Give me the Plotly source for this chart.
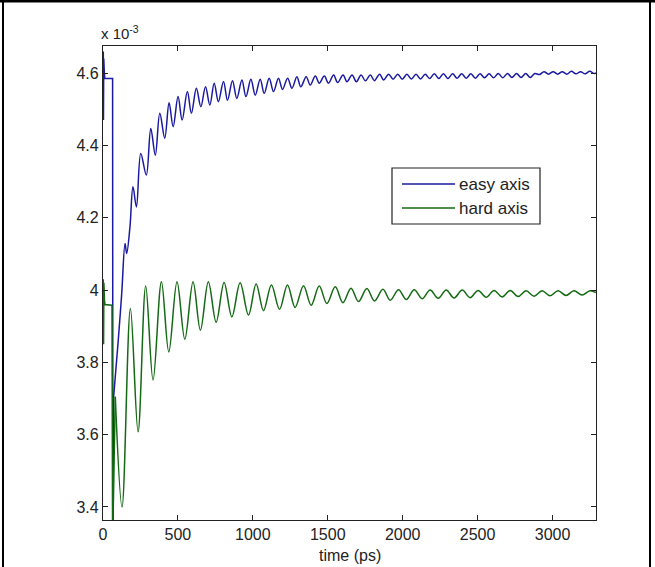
import plotly.graph_objects as go

# ---------------- data (values in units of 1e-3) ----------------
easy_t = [0, 2, 3, 5, 7, 9, 12, 64, 66, 68, 70, 102, 125, 147, 158, 180, 200, 223,
          252, 289, 319, 349, 379, 412, 441, 468, 501, 528, 563, 590, 623, 653, 684,
          713, 742, 770, 804, 831, 864, 893, 927, 954, 987, 1016, 1049, 1076, 1109,
          1138, 1171, 1198, 1232, 1261, 1294, 1320, 1356, 1383, 1417, 1443, 1477,
          1505, 1539, 1566, 1602, 1628, 1662, 1691, 1722, 1751, 1784, 1811, 1846,
          1873, 1906, 1936, 1967, 1997, 2028, 2058, 2089, 2119, 2150, 2180, 2211,
          2241, 2272, 2302, 2333, 2363, 2394, 2424, 2455, 2485, 2516, 2546, 2577,
          2607, 2638, 2668, 2699, 2729, 2760, 2790, 2821, 2851, 2882, 2912, 2943,
          2973, 3004, 3034, 3065, 3095, 3126, 3156, 3187, 3217, 3248, 3278, 3290]
easy_v = [4.58, 4.66, 4.47, 4.64, 4.55, 4.60, 4.585, 4.585, 3.30, 3.30, 3.70, 3.862,
          3.991, 4.129, 4.101, 4.175, 4.286, 4.230, 4.378, 4.318, 4.447, 4.373,
          4.489, 4.420, 4.518, 4.452, 4.535, 4.470, 4.549, 4.489, 4.558, 4.507,
          4.562, 4.512, 4.572, 4.521, 4.577, 4.525, 4.579, 4.530, 4.581, 4.535,
          4.583, 4.539, 4.583, 4.544, 4.586, 4.549, 4.586, 4.555, 4.586, 4.558,
          4.590, 4.562, 4.590, 4.567, 4.592, 4.572, 4.592, 4.572, 4.595, 4.574,
          4.595, 4.576, 4.595, 4.576, 4.595, 4.579, 4.595, 4.579, 4.597, 4.581,
          4.597, 4.583, 4.597, 4.583, 4.597, 4.584, 4.597, 4.584, 4.597, 4.585,
          4.598, 4.585, 4.598, 4.585, 4.598, 4.586, 4.598, 4.586, 4.598, 4.586,
          4.598, 4.587, 4.598, 4.587, 4.599, 4.587, 4.599, 4.588, 4.599, 4.588,
          4.599, 4.588, 4.599, 4.596, 4.604, 4.597, 4.604, 4.597, 4.604, 4.597,
          4.605, 4.598, 4.604, 4.598, 4.605, 4.599, 4.601]

hard_t = [0, 2, 4, 6, 8, 10, 14, 58, 60, 62, 64, 82, 127, 183, 234, 285, 334, 390,
          439, 494, 546, 601, 650, 703, 755, 808, 860, 915, 971, 1022, 1071, 1124,
          1178, 1231, 1282, 1338, 1389, 1443, 1494, 1550, 1601, 1655, 1705, 1761,
          1812, 1868, 1917, 1972, 2024, 2077, 2130, 2183, 2237, 2290, 2343, 2397,
          2450, 2503, 2557, 2610, 2663, 2717, 2770, 2823, 2877, 2930, 2983, 3037,
          3090, 3143, 3197, 3250, 3290]
hard_v = [3.96, 4.03, 3.85, 4.02, 3.93, 3.97, 3.96, 3.958, 3.955, 3.30, 3.30, 3.705,
          3.400, 3.949, 3.608, 4.011, 3.751, 4.023, 3.829, 4.023, 3.864, 4.023,
          3.889, 4.023, 3.911, 4.021, 3.926, 4.020, 3.931, 4.017, 3.943, 4.014,
          3.947, 4.014, 3.952, 4.012, 3.958, 4.011, 3.963, 4.009, 3.965, 4.005,
          3.968, 4.004, 3.970, 4.002, 3.972, 4.001, 3.974, 4.001, 3.976, 4.000,
          3.977, 4.000, 3.978, 4.000, 3.979, 3.999, 3.980, 3.999, 3.981, 3.999,
          3.982, 3.998, 3.983, 3.998, 3.984, 3.998, 3.985, 3.998, 3.986, 3.998,
          3.993]

series_names = ["easy axis", "hard axis"]
series_colors = ["#1a1aa0", "#136a13"]
# index where the straight start-up part ends and the ringing part begins
split_index = [10, 11]

x_ticks = [0, 500, 1000, 1500, 2000, 2500, 3000]
y_ticks = [3.4, 3.6, 3.8, 4.0, 4.2, 4.4, 4.6]
y_tick_labels = ["3.4", "3.6", "3.8", "4", "4.2", "4.4", "4.6"]
x_range = [0, 3290]
y_range = [3.364, 4.675]

FONT = "Liberation Sans, Arial, sans-serif"

fig = go.Figure()
for (tt, vv), nm, col, k in zip([(easy_t, easy_v), (hard_t, hard_v)], series_names,
                                series_colors, split_index):
    fig.add_trace(go.Scatter(x=tt[:k + 1], y=vv[:k + 1], mode="lines", name=nm,
                             legendgroup=nm, showlegend=False,
                             line=dict(color=col, width=1.5)))
    fig.add_trace(go.Scatter(x=tt[k:], y=vv[k:], mode="lines", name=nm,
                             legendgroup=nm, showlegend=False,
                             line=dict(color=col, width=1.5, shape="spline",
                                       smoothing=1.0)))

W, H = 655, 567
L, R, T, B = 103, 59, 46, 47
pw, ph = W - L - R, H - T - B


def px(x):
    return (x - L) / pw


def py(y):
    return (H - B - y) / ph


axis_common = dict(showgrid=False, zeroline=False, showline=True, linecolor="#222",
                   linewidth=1.3, mirror="ticks", ticks="inside", ticklen=5,
                   tickcolor="#222", tickwidth=1.2,
                   tickfont=dict(family=FONT, size=16, color="#222"))

fig.update_xaxes(range=x_range, tickvals=x_ticks, **axis_common)
fig.update_yaxes(range=y_range, tickvals=y_ticks, ticktext=y_tick_labels, **axis_common)

shapes = []
# outer frame of the image
shapes.append(dict(type="line", xref="paper", yref="paper", x0=px(0), x1=px(W),
                   y0=py(1), y1=py(1), line=dict(color="black", width=3)))
shapes.append(dict(type="line", xref="paper", yref="paper", x0=px(3), x1=px(3),
                   y0=py(0), y1=py(H), line=dict(color="black", width=2)))
shapes.append(dict(type="line", xref="paper", yref="paper", x0=px(650), x1=px(650),
                   y0=py(0), y1=py(H), line=dict(color="black", width=2)))
# legend box
shapes.append(dict(type="rect", xref="paper", yref="paper", x0=px(392), x1=px(540),
                   y0=py(224), y1=py(168), line=dict(color="#222", width=1.2),
                   fillcolor="white"))
annotations = []
for i, (nm, col) in enumerate(zip(series_names, series_colors)):
    yy = 184 + 24 * i
    shapes.append(dict(type="line", xref="paper", yref="paper", x0=px(402), x1=px(455),
                       y0=py(yy), y1=py(yy), line=dict(color=col, width=1.4)))
    annotations.append(dict(text=nm, xref="paper", yref="paper", x=px(457), y=py(yy),
                            xanchor="left", yanchor="middle", showarrow=False,
                            font=dict(family=FONT, size=17, color="#222")))

annotations.append(dict(text="x 10<sup>-3</sup>", xref="paper", yref="paper",
                        x=px(99), y=py(44), xanchor="left", yanchor="bottom",
                        showarrow=False, font=dict(family=FONT, size=15, color="#222")))
annotations.append(dict(text="time (ps)", xref="paper", yref="paper",
                        x=0.5, y=py(555), xanchor="center", yanchor="middle",
                        showarrow=False, font=dict(family=FONT, size=16, color="#222")))

fig.update_layout(width=W, height=H, margin=dict(l=L, r=R, t=T, b=B),
                  plot_bgcolor="white", paper_bgcolor="white",
                  shapes=shapes, annotations=annotations, showlegend=False)

fig.write_html("out.html")
